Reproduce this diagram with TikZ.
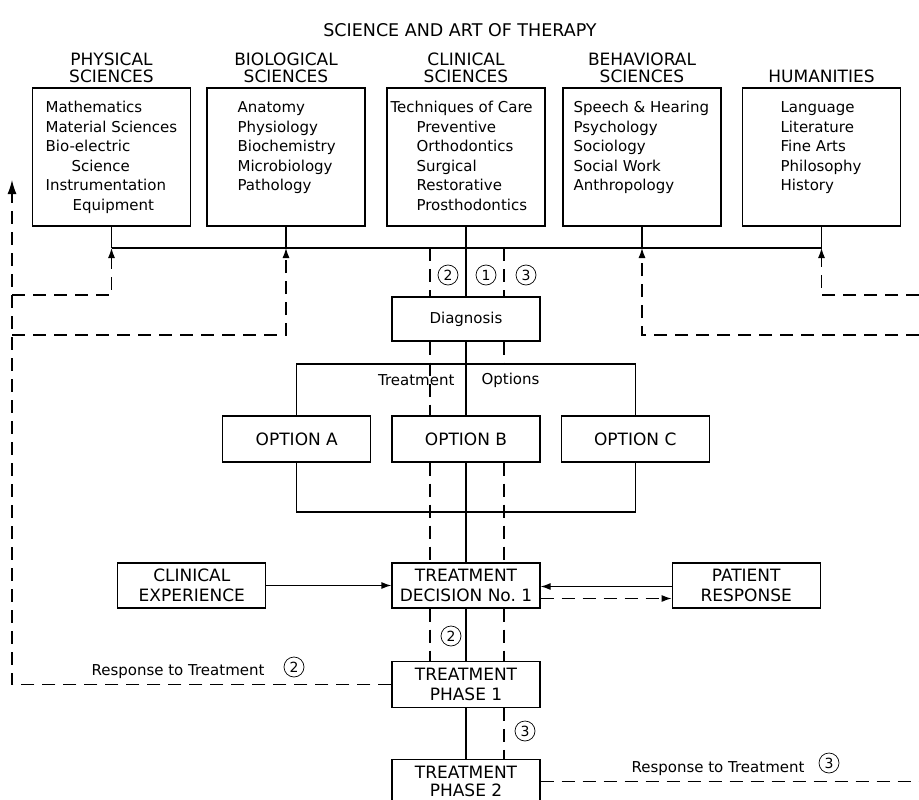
\documentclass[tikz,border=0pt]{standalone}
\usepackage{fontspec}
\setmainfont{DejaVu Sans}
\usetikzlibrary{arrows.meta,positioning}

\begin{document}
\begin{tikzpicture}[x=1pt,y=-1pt,line width=1.2pt,
  fieldbox/.style={rectangle,draw,minimum width=158pt,minimum height=138pt,inner sep=0pt},
  heading/.style={align=center,inner sep=0pt,font=\fontsize{17}{17}\selectfont},
  subjects/.style={align=left,anchor=north west,inner sep=0pt,font=\fontsize{15}{19.5}\selectfont},
  stepbox/.style={rectangle,draw,fill=white,minimum width=148pt,minimum height=45pt,inner sep=0pt,align=center,font=\fontsize{17}{20}\selectfont},
  feedback/.style={dash pattern=on 13pt off 8pt},
  num/.style={circle,draw,line width=0.7pt,minimum size=20pt,inner sep=0pt,font=\fontsize{14}{14}\selectfont},
  fbtip/.style={-{Latex[length=10pt,width=7pt]}}]
\useasboundingbox (0,0) rectangle (919,800);

\node [font=\fontsize{17.5}{20}\selectfont] (title) at (460,30) {SCIENCE AND ART OF THERAPY};

\node [fieldbox] (phys) at (111.5,157) {};
\node [fieldbox] (bio) at (286,157) {};
\node [fieldbox] (clin) at (466,157) {};
\node [fieldbox] (behav) at (642,157) {};
\node [fieldbox] (hum) at (821.5,157) {};

\node [heading,above=4.5pt of phys] (physH) {PHYSICAL\\SCIENCES};
\node [heading,above=4.5pt of bio] (bioH) {BIOLOGICAL\\SCIENCES};
\node [heading,above=4.5pt of clin] (clinH) {CLINICAL\\SCIENCES};
\node [heading,above=4.5pt of behav] (behavH) {BEHAVIORAL\\SCIENCES};
\node [heading,above=4.5pt of hum] (humH) {HUMANITIES};

\node [subjects] (physT) at (45,101) {Mathematics\\Material Sciences\\Bio-electric\\\hspace*{26pt}Science\\Instrumentation\\\hspace*{27pt}Equipment};
\node [subjects] (bioT) at (237,101) {Anatomy\\Physiology\\Biochemistry\\Microbiology\\Pathology};
\node [subjects] (clinT) at (390,101) {Techniques of Care\\\hspace*{26pt}Preventive\\\hspace*{26pt}Orthodontics\\\hspace*{26pt}Surgical\\\hspace*{26pt}Restorative\\\hspace*{26pt}Prosthodontics};
\node [subjects] (behavT) at (573,101) {Speech \& Hearing\\Psychology\\Sociology\\Social Work\\Anthropology};
\node [subjects] (humT) at (780,101) {Language\\Literature\\Fine Arts\\Philosophy\\History};

\node [stepbox,font=\fontsize{15}{18}\selectfont,minimum height=44pt] (diag) at (466,319) {Diagnosis};
\node [stepbox,minimum height=46pt] (optB) at (466,439) {OPTION B};
\node [stepbox,minimum height=46pt,left=20pt of optB] (optA) {OPTION A};
\node [stepbox,minimum height=46pt,right=20pt of optB] (optC) {OPTION C};
\node [stepbox] (dec) at (466,585.5) {TREATMENT\\DECISION No.~1};
\node [stepbox,left=125pt of dec] (clinexp) {CLINICAL\\EXPERIENCE};
\node [stepbox,right=131pt of dec] (patient) {PATIENT\\RESPONSE};
\node [stepbox,minimum height=46pt,below=52pt of dec] (ph1) {TREATMENT\\PHASE 1};
\node [stepbox,minimum height=44pt,font=\fontsize{17}{18}\selectfont,below=51pt of ph1] (ph2) {TREATMENT\\PHASE 2};

\coordinate (bus) at (0,248);
\coordinate (optTop) at (0,364);
\coordinate (optBot) at (0,512);
\coordinate (trk2) at (430,0);
\coordinate (trk3) at (504,0);
\coordinate (fbTop) at (12,180);
\coordinate (fb1) at (0,295);
\coordinate (fb2) at (0,335);
\coordinate (fbR) at (919,0);

\draw (phys.south |- bus) -- (hum.south |- bus);
\foreach \f in {phys,bio,behav,hum}
  \draw (\f.south) -- (\f.south |- bus);
\draw (clin.south) -- (diag.north);
\draw (diag.south) -- (optB.north);
\draw (optB.south) -- (dec.north);
\draw (dec.south) -- (ph1.north);
\draw (ph1.south) -- (ph2.north);

\draw (optA.north) -- (optA.north |- optTop) -- (optC.north |- optTop) -- (optC.north);
\draw (optA.south) -- (optA.south |- optBot) -- (optC.south |- optBot) -- (optC.south);
\node [anchor=east,inner sep=0pt,font=\fontsize{15}{18}\selectfont] (treatL) at (455,380) {Treatment};
\node [anchor=west,inner sep=0pt,font=\fontsize{15}{18}\selectfont] (optL) at (481,380) {Options};

\draw [feedback] (trk2 |- bus) -- (trk2 |- diag.north)
  (trk2 |- diag.south) -- (trk2 |- optB.north)
  (trk2 |- optB.south) -- (trk2 |- dec.north)
  (trk2 |- dec.south) -- (trk2 |- ph1.north);
\draw [feedback] (trk3 |- bus) -- (trk3 |- diag.north)
  (trk3 |- diag.south) -- (trk3 |- optTop)
  (trk3 |- optB.south) -- (trk3 |- dec.north)
  (trk3 |- dec.south) -- (trk3 |- ph1.north)
  (trk3 |- ph1.south) -- (trk3 |- ph2.north);

\node [num] (c2a) at (448,275) {2};
\node [num] (c1) at (486,275) {1};
\node [num] (c3a) at (526,275) {3};
\node [num] (c2b) at (451,636) {2};
\node [num] (c3b) at (525,731) {3};

\draw [-{Latex[length=10pt,width=7pt]}] (clinexp) -- (dec);
\draw [-{Latex[length=10pt,width=7pt]}] ([yshift=-1pt]patient.west) -- ([yshift=-1pt]dec.east);
\draw [feedback,-{Latex[length=10pt,width=7pt]}] ([yshift=-13pt]dec.east) -- ([yshift=-13pt]patient.west);

\draw [feedback,-{Latex[length=14pt,width=9pt]}] (ph1.west) -| (fbTop);
\draw [feedback,fbtip] (fbTop |- fb1) -| (phys.south |- bus);
\draw [feedback,fbtip] (fbTop |- fb2) -| (bio.south |- bus);
\draw [feedback,fbtip] (fbR |- fb2) -| (behav.south |- bus);
\draw [feedback,fbtip] (fbR |- fb1) -| (hum.south |- bus);
\draw [feedback] (ph2.east) -- (fbR |- ph2.east);

\node [font=\fontsize{15}{18}\selectfont] (resp2) at (178,672) {Response to Treatment};
\node [num] (c2c) at (294,667) {2};
\node [font=\fontsize{15}{18}\selectfont] (resp3) at (718,769) {Response to Treatment};
\node [num] (c3c) at (829,763) {3};
\end{tikzpicture}
\end{document}
